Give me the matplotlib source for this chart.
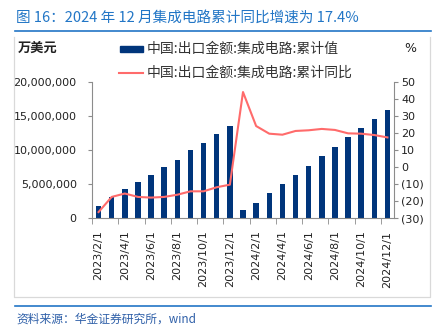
import matplotlib
matplotlib.use("Agg")
import matplotlib.pyplot as plt
from matplotlib.lines import Line2D
from matplotlib.patches import Rectangle
import numpy as np

plt.rcParams['font.family'] = ['DejaVu Sans', 'Noto Sans CJK SC']

categories = ["2023/2/1", "2023/3/1", "2023/4/1", "2023/5/1", "2023/6/1", "2023/7/1",
              "2023/8/1", "2023/9/1", "2023/10/1", "2023/11/1", "2023/12/1",
              "2024/1/1", "2024/2/1", "2024/3/1", "2024/4/1", "2024/5/1", "2024/6/1",
              "2024/7/1", "2024/8/1", "2024/9/1", "2024/10/1", "2024/11/1", "2024/12/1"]
cum_value = [1820000, 3160000, 4250000, 5290000, 6370000, 7450000, 8590000, 9930000,
             11060000, 12300000, 13600000,
             1190000, 2170000, 3750000, 4990000, 6270000, 7700000, 9080000, 10400000,
             11850000, 13190000, 14600000, 15950000]
cum_yoy = [-26.5, -17.6, -15.6, -17.6, -18.0, -17.6, -16.3, -14.3, -14.3, -11.9, -10.4,
           44.1, 24.1, 19.6, 19.0, 21.2, 21.6, 22.4, 21.8, 19.8, 19.6, 18.8, 17.4]
left_ticks = [0, 5000000, 10000000, 15000000, 20000000]
left_labels = ["0", "5,000,000", "10,000,000", "15,000,000", "20,000,000"]
right_ticks = [-30, -20, -10, 0, 10, 20, 30, 40, 50]
right_labels = ["(30)", "(20)", "(10)", "0", "10", "20", "30", "40", "50"]

title = "图 16：2024 年 12 月集成电路累计同比增速为 17.4%"
unit_left = "万美元"
unit_right = "%"
legend_bar = "中国:出口金额:集成电路:累计值"
legend_line = "中国:出口金额:集成电路:累计同比"
source = "资料来源：华金证券研究所，wind"

W, H = 447, 335
BAR_C = "#00357B"
LINE_C = "#FF6B6B"
BLUE = "#2276C6"
GRID_GRAY = "#D9D9D9"
AX_GRAY = "#8C8C8C"
CJK = ['Noto Sans CJK SC', 'DejaVu Sans']

def fx(x):
    return x / W

def fy(y):
    return 1 - y / H

fig = plt.figure(figsize=(W / 100, H / 100), dpi=100)
fig.patch.set_facecolor("white")

ax = fig.add_axes([fx(92), fy(218), fx(394) - fx(92), fy(82) - fy(218)])
x = np.arange(len(categories))
ax.bar(x, cum_value, width=0.42, color=BAR_C, zorder=2)
ax.set_xlim(-0.5, len(categories) - 0.5)
ax.set_ylim(0, 20000000)
ax.set_yticks(left_ticks)
ax.set_yticklabels(left_labels, fontsize=8, color="#222222")
ax.tick_params(axis='y', direction='out', length=3, color=AX_GRAY, pad=8)
for s in ["top", "right"]:
    ax.spines[s].set_visible(False)
for s in ["left", "bottom"]:
    ax.spines[s].set_color(AX_GRAY)
    ax.spines[s].set_linewidth(0.8)

ax.set_xticks(x[::2])
ax.set_xticklabels(categories[::2], rotation=90, fontsize=8, color="#222222")
ax.tick_params(axis='x', length=0, pad=9)
ax.set_xticks(np.arange(-0.5, len(categories), 2), minor=True)
ax.tick_params(axis='x', which='minor', length=4, color=AX_GRAY, direction='out')

ax2 = ax.twinx()
ax2.plot(x, cum_yoy, color=LINE_C, linewidth=1.5, zorder=3)
ax2.set_ylim(-30, 50)
ax2.set_yticks(right_ticks)
ax2.set_yticklabels(right_labels, fontsize=8, color="#222222")
ax2.tick_params(axis='y', direction='out', length=3, color=AX_GRAY, pad=2)
for s in ["top", "left", "bottom"]:
    ax2.spines[s].set_visible(False)
ax2.spines["right"].set_color(AX_GRAY)
ax2.spines["right"].set_linewidth(0.8)

# title and rules
fig.text(fx(16), fy(18), title, fontsize=10.5, color=BLUE, family=CJK, va='center', ha='left')
fig.add_artist(Line2D([fx(15), fx(431)], [fy(31), fy(31)], color=BLUE, linewidth=1.2))
fig.add_artist(Line2D([fx(15), fx(431)], [fy(306), fy(306)], color=BLUE, linewidth=1.2))

# chart frame
fig.add_artist(Line2D([fx(14), fx(14), fx(430), fx(430)], [fy(37), fy(297), fy(297), fy(37)],
                      color=GRID_GRAY, linewidth=0.9))

# units
fig.text(fx(18), fy(48), unit_left, fontsize=9.5, fontweight='bold', family=CJK,
         color="#222222", va='center', ha='left')
fig.text(fx(404), fy(48), unit_right, fontsize=9, color="#222222", va='center', ha='left')

# legend
fig.add_artist(Rectangle((fx(120), fy(51.5)), fx(143) - fx(120), fy(46.5) - fy(51.5),
                         color=BAR_C, transform=fig.transFigure))
fig.text(fx(147), fy(48.5), legend_bar, fontsize=10, family=CJK, color="#333333",
         va='center', ha='left')
fig.add_artist(Line2D([fx(119), fx(143)], [fy(73), fy(73)], color=LINE_C, linewidth=1.5))
fig.text(fx(147), fy(72.5), legend_line, fontsize=10, family=CJK, color="#333333",
         va='center', ha='left')

# source
fig.text(fx(16), fy(319), source, fontsize=8.5, family=CJK, style='italic', color="#2E5FA8",
         va='center', ha='left')

fig.savefig("out.png", dpi=100, facecolor="white")
